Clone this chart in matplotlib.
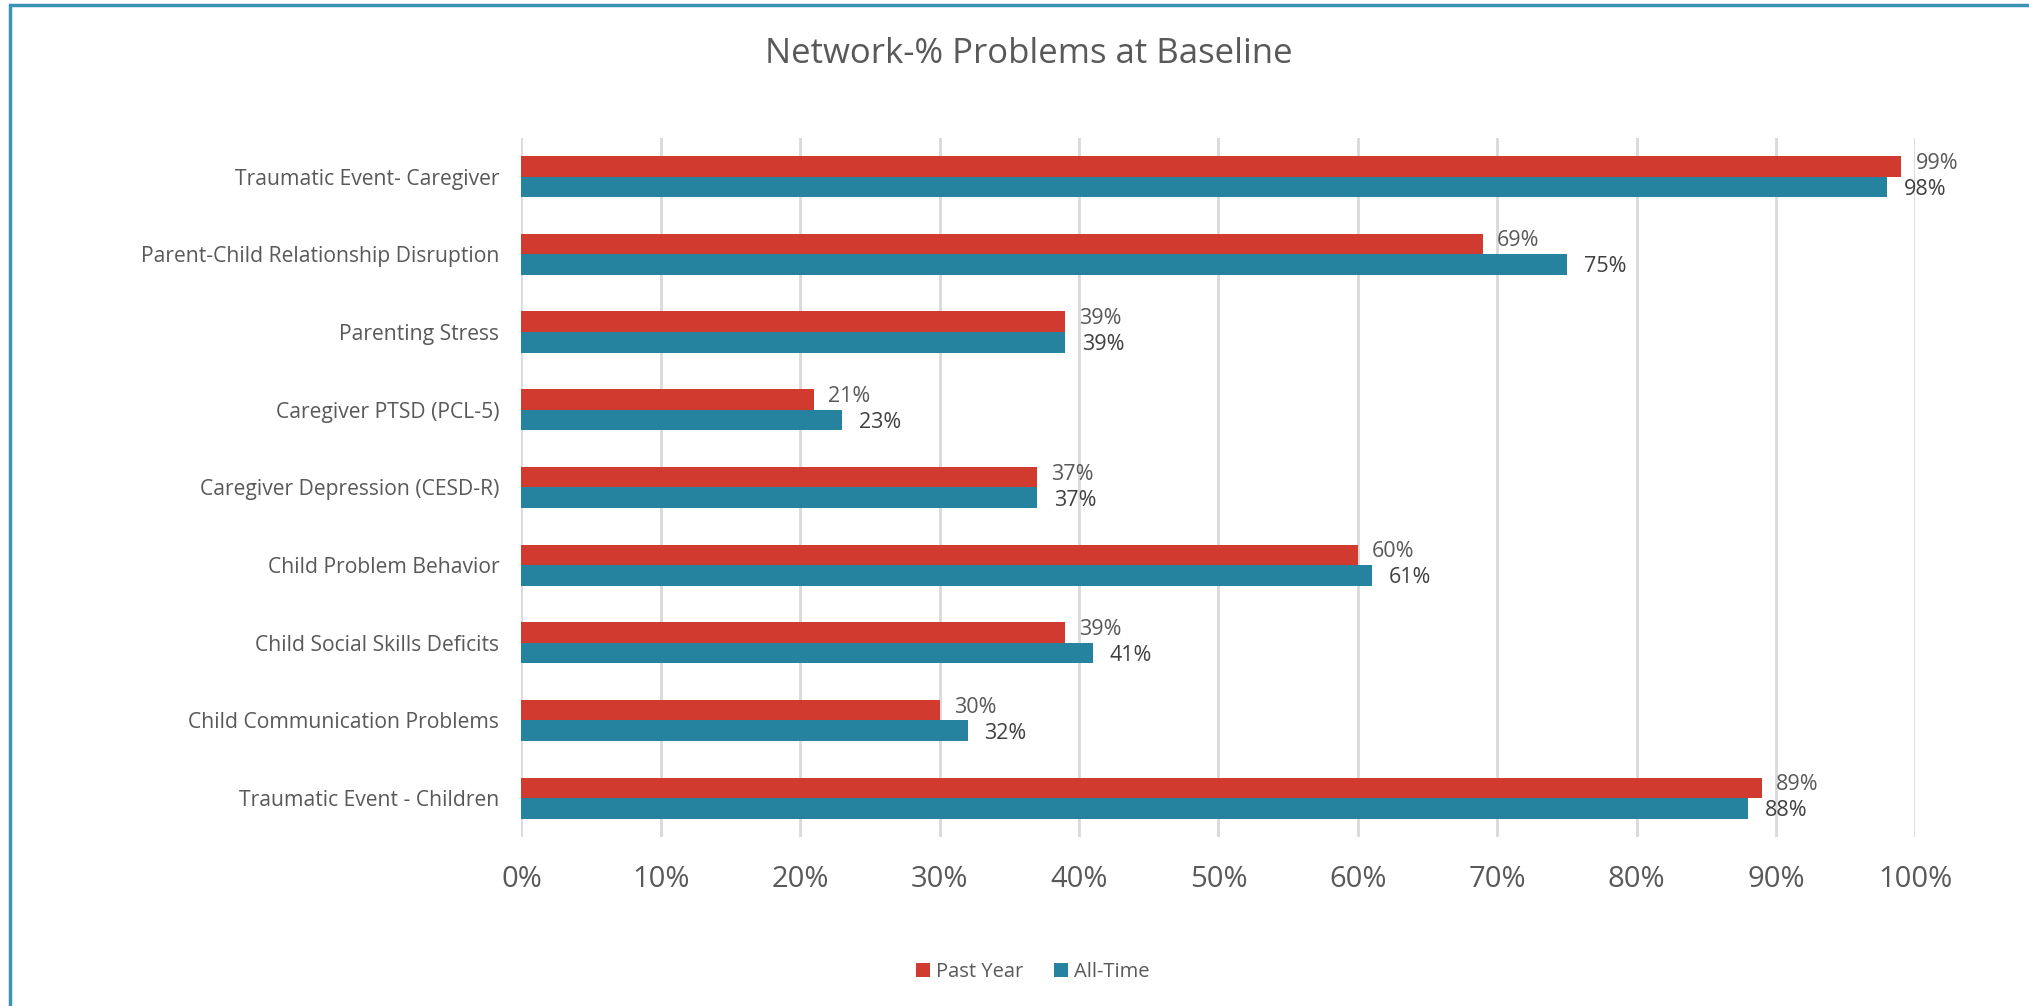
import matplotlib.pyplot as plt
import matplotlib.patches as patches
import numpy as np

plt.rcParams['font.family'] = ['Open Sans', 'DejaVu Sans']

categories = ['Traumatic Event- Caregiver', 'Parent-Child Relationship Disruption',
              'Parenting Stress', 'Caregiver PTSD (PCL-5)', 'Caregiver Depression (CESD-R)',
              'Child Problem Behavior', 'Child Social Skills Deficits',
              'Child Communication Problems', 'Traumatic Event - Children']
past_year = [99, 69, 39, 21, 37, 60, 39, 30, 89]
all_time = [98, 75, 39, 23, 37, 61, 41, 32, 88]
ticks = [0, 10, 20, 30, 40, 50, 60, 70, 80, 90, 100]

red = '#D13A2F'
teal = '#2683A0'
grey = '#595959'

fig = plt.figure(figsize=(20.29, 10.06), dpi=100)
ax = fig.add_axes([0.257, 0.168, 0.687, 0.695])

# outer chart frame
fig.patches.append(patches.Rectangle((10 / 2029, -0.05), 1.1, 1.05 - 5 / 1006,
                                     transform=fig.transFigure, fill=False,
                                     edgecolor='#3A93B5', linewidth=2.5))

y = np.arange(len(categories))
h = 0.265
ax.barh(y - h / 2, past_year, height=h, color=red, label='Past Year', zorder=3)
ax.barh(y + h / 2, all_time, height=h, color=teal, label='All-Time', zorder=3)

for yi, v in zip(y, past_year):
    ax.text(v + 1.0, yi - h / 2 - 0.04, f'{v}%', va='center', ha='left',
            fontsize=15.5, color=grey)
for yi, v in zip(y, all_time):
    ax.text(v + 1.2, yi + h / 2 + 0.03, f'{v}%', va='center', ha='left',
            fontsize=15.5, color='#404040')

ax.set_xlim(0, 100)
ax.set_ylim(len(categories) - 0.5, -0.5)
ax.set_xticks(ticks)
ax.set_xticklabels([f'{t}%' for t in ticks], fontsize=21, color=grey)
ax.set_yticks(y)
ax.set_yticklabels(categories, fontsize=15.2, color=grey)
ax.tick_params(axis='x', length=0, pad=20)
ax.tick_params(axis='y', length=0, pad=16)
ax.grid(axis='x', color='#D9D9D9', linewidth=2, zorder=0)
for s in ax.spines.values():
    s.set_visible(False)

fig.text(0.507, 0.946, 'Network-% Problems at Baseline', ha='center', va='center',
         fontsize=25, color=grey)

fig.legend(loc='center', bbox_to_anchor=(0.509, 0.034), ncol=2, frameon=False,
           fontsize=14.5, labelcolor=grey, handlelength=0.7, handleheight=0.7,
           handletextpad=0.3, columnspacing=1.5)

fig.savefig('out.png', dpi=100)
